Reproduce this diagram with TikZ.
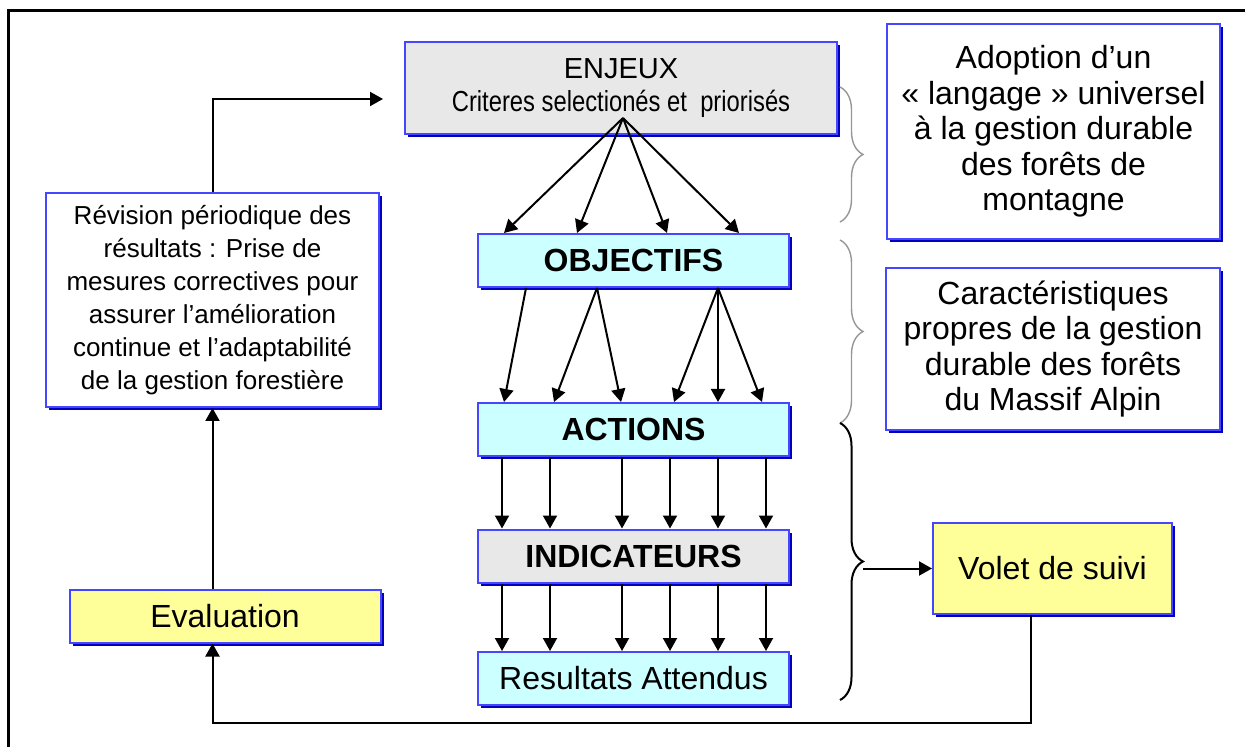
\documentclass[tikz,border=0pt]{standalone}
\usepackage{fontspec}
\setmainfont{Liberation Sans}
\newfontfamily\narrowfont[FakeStretch=0.82]{Liberation Sans}
\usetikzlibrary{arrows.meta,shadows,decorations.pathreplacing}
\definecolor{bordbleu}{RGB}{70,70,255}
\definecolor{ombrebleu}{RGB}{0,0,190}
\definecolor{cyanbox}{RGB}{204,255,255}
\definecolor{jaunebox}{RGB}{255,255,153}
\definecolor{grisbox}{RGB}{232,232,232}
\definecolor{grisbrace}{RGB}{150,150,150}
\begin{document}
\begin{tikzpicture}[x=0.5pt, y=-0.5pt,
    boite/.style={draw=bordbleu, line width=1pt, inner sep=0pt, align=center,
      drop shadow={shadow xshift=1.5pt, shadow yshift=-1.5pt, fill=ombrebleu, opacity=1}},
    niveau/.style={boite, minimum width=155.5pt, minimum height=26.5pt, font=\fontsize{16}{18}\selectfont},
    fleche/.style={line width=1pt, -{Triangle[length=6.5pt,width=7pt]}},
    accgris/.style={draw=grisbrace, line width=0.7pt, decorate, decoration={brace, amplitude=11.5pt}},
    accnoir/.style={draw=black, line width=1pt, decorate, decoration={brace, amplitude=11.5pt}}]
  \useasboundingbox (0,0) rectangle (1245,747);
  % cadre
  \draw[line width=1.5pt] (8,747) -- (8,11) -- (1245,11);

  % colonne centrale
  \node at (621,88) (enjeux) [boite, fill=grisbox, minimum width=216pt, minimum height=46pt,
    font=\fontsize{14.5}{16.5}\selectfont] {ENJEUX\\ \narrowfont Criteres selectionés et \ priorisés};
  \node at (633.5,260.5) (objectifs) [niveau, fill=cyanbox, font=\bfseries\fontsize{16}{18}\selectfont] {OBJECTIFS};
  \node at (633.5,429.5) (actions) [niveau, fill=cyanbox, font=\bfseries\fontsize{16}{18}\selectfont] {ACTIONS};
  \node at (633.5,556) (indicateurs) [niveau, fill=grisbox, font=\bfseries\fontsize{16}{18}\selectfont] {INDICATEURS};
  \node at (633.5,678.5) (resultats) [niveau, fill=cyanbox] {Resultats Attendus};

  % colonne gauche
  \node at (212.5,300) (revision) [boite, fill=white, minimum width=166.5pt, minimum height=107pt,
    font=\fontsize{13}{16.5}\selectfont] {Révision périodique des\\résultats : Prise de\\mesures correctives pour\\assurer l’amélioration\\continue et l’adaptabilité\\de la gestion forestière};
  \node at (225,616) (evaluation) [niveau, fill=jaunebox] {Evaluation};

  % colonne droite
  \node at (1053.5,131.5) (adoption) [boite, fill=white, minimum width=166.5pt, minimum height=107.5pt,
    font=\fontsize{16}{17.75}\selectfont] {Adoption d’un\\« langage » universel\\à la gestion durable\\des forêts de\\montagne};
  \node at (1053,349) (caract) [boite, fill=white, minimum width=167pt, minimum height=81pt,
    font=\fontsize{16}{17.75}\selectfont] {Caractéristiques\\propres de la gestion\\durable des forêts\\du Massif Alpin};
  \node at (1052.5,568.5) (volet) [boite, fill=jaunebox, minimum width=119.5pt, minimum height=45.5pt,
    font=\fontsize{16}{18}\selectfont] {Volet de suivi};

  % fleches
  \coordinate (ef) at (623,118);
  \foreach \dx in {13.5,50,95,131}
    \draw[fleche] (ef) -- ([xshift=\dx pt]objectifs.north west);
  \foreach \a/\b in {24.5/13.5, 60/38.5, 60/72, 120.5/98.5, 120.5/120.5, 120.5/142.5}
    \draw[fleche] ([xshift=\a pt]objectifs.south west) -- ([xshift=\b pt]actions.north west);
  \foreach \dx in {12.5,36.5,72.5,96.5,120.5,144.5} {
    \draw[fleche] ([xshift=\dx pt]actions.south west) -- ([xshift=\dx pt]indicateurs.north west);
    \draw[fleche] ([xshift=\dx pt]indicateurs.south west) -- ([xshift=\dx pt]resultats.north west);
  }
  \coordinate (retour) at (383,99);
  \draw[fleche] (revision.north) |- (retour);
  \draw[fleche] (revision.south |- evaluation.north) -- (revision.south);
  \draw[fleche] ([xshift=-10.75pt]volet.south) -- ++(0,108) -| (revision.south |- evaluation.south);

  % accolades
  \draw[accgris] (840,87) -- (840,222);
  \draw[accgris] (840,240) -- (840,423);
  \draw[accnoir] (840,423) -- (840,700);
  \coordinate (accpointe) at (863,568.5);
  \draw[fleche] (accpointe) -- (volet.west);
\end{tikzpicture}
\end{document}
